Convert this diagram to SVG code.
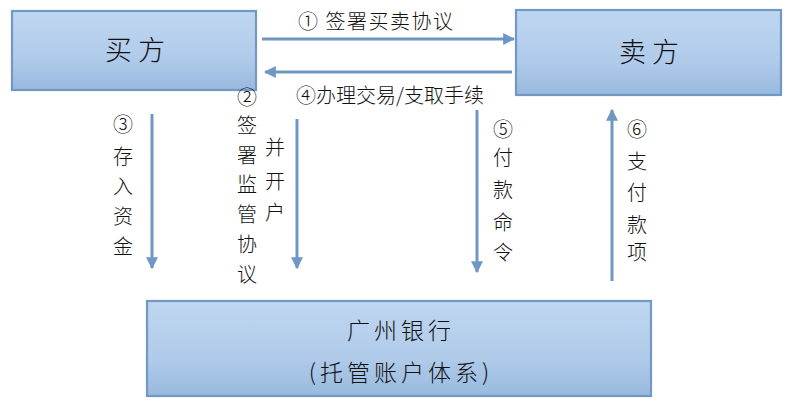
<svg xmlns="http://www.w3.org/2000/svg" width="792" height="408" viewBox="0 0 792 408">
<defs>
<linearGradient id="g" x1="0" y1="0" x2="0" y2="1">
<stop offset="0" stop-color="#bfd6f0"/>
<stop offset="0.6" stop-color="#b0cbea"/>
<stop offset="1" stop-color="#98b9de"/>
</linearGradient>
<marker id="ah" viewBox="0 0 10 10" refX="9" refY="5" markerWidth="4" markerHeight="4" orient="auto" markerUnits="strokeWidth">
<path d="M0,0 L10,5 L0,10 z" fill="#6f97c4"/>
</marker>
<style>
.box{fill:url(#g);stroke:#7398c5;stroke-width:2.2}
.t{font-family:"Noto Sans CJK SC","Noto Sans",sans-serif;fill:#111;font-weight:300}
.big{font-size:27px;letter-spacing:6px}
.mid{font-size:23px;letter-spacing:4px}
.lab{font-size:20px}
.top{letter-spacing:1.5px}
.c{stroke:#6f97c4;stroke-width:3;fill:none;marker-end:url(#ah)}
</style>
</defs>
<g id="buyer">
<rect class="box" x="12" y="11" width="244" height="79"/>
<text class="t big" x="138" y="60" text-anchor="middle">买方</text>
</g>
<g id="seller">
<rect class="box" x="516" y="10" width="265" height="85"/>
<text class="t big" x="652" y="62" text-anchor="middle">卖方</text>
</g>
<g id="bank">
<rect class="box" x="147" y="301" width="504" height="95"/>
<text class="t mid" x="401" y="339" text-anchor="middle">广州银行</text>
<text class="t mid" x="401" y="381" text-anchor="middle">(托管账户体系)</text>
</g>
<g id="connectors">
<line class="c" x1="262" y1="39" x2="514" y2="39"/>
<line class="c" x1="512" y1="72" x2="265" y2="72"/>
<line class="c" x1="152" y1="114" x2="152" y2="268"/>
<line class="c" x1="297" y1="119" x2="297" y2="268"/>
<line class="c" x1="477" y1="110" x2="477" y2="272"/>
<line class="c" x1="612" y1="281" x2="612" y2="110"/>
</g>
<g id="labels">
<text class="t lab top" x="298" y="29">① 签署买卖协议</text>
<text class="t lab" x="296" y="103">④办理交易/支取手续</text>
<text class="t lab" text-anchor="middle"><tspan x="123" y="132">③</tspan><tspan x="123" y="164">存</tspan><tspan x="123" y="194">入</tspan><tspan x="123" y="224">资</tspan><tspan x="123" y="254">金</tspan></text>
<text class="t lab" text-anchor="middle"><tspan x="247" y="105">②</tspan><tspan x="247" y="133">签</tspan><tspan x="247" y="163">署</tspan><tspan x="247" y="192">监</tspan><tspan x="247" y="222">管</tspan><tspan x="247" y="252">协</tspan><tspan x="247" y="282">议</tspan></text>
<text class="t lab" text-anchor="middle"><tspan x="275" y="155">并</tspan><tspan x="275" y="189">开</tspan><tspan x="275" y="220">户</tspan></text>
<text class="t lab" text-anchor="middle"><tspan x="503" y="137">⑤</tspan><tspan x="503" y="165">付</tspan><tspan x="503" y="197">款</tspan><tspan x="503" y="230">命</tspan><tspan x="503" y="260">令</tspan></text>
<text class="t lab" text-anchor="middle"><tspan x="637" y="137">⑥</tspan><tspan x="637" y="169">支</tspan><tspan x="637" y="200">付</tspan><tspan x="637" y="232">款</tspan><tspan x="637" y="260">项</tspan></text>
</g>
</svg>
